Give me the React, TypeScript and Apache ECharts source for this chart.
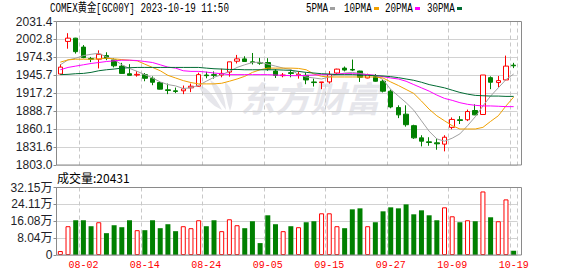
import React, { useEffect, useRef } from 'react';
import * as echarts from 'echarts';

const dates = [
  '07-28', '07-31', '08-01', '08-02', '08-03', '08-04', '08-07', '08-08', '08-09', '08-10',
  '08-11', '08-14', '08-15', '08-16', '08-17', '08-18', '08-21', '08-22', '08-23', '08-24',
  '08-25', '08-28', '08-29', '08-30', '08-31', '09-01', '09-04', '09-05', '09-06', '09-07',
  '09-08', '09-11', '09-12', '09-13', '09-14', '09-15', '09-18', '09-19', '09-20', '09-21',
  '09-22', '09-25', '09-26', '09-27', '09-28', '09-29', '10-02', '10-03', '10-04', '10-05',
  '10-06', '10-09', '10-10', '10-11', '10-12', '10-13', '10-16', '10-17', '10-18', '10-19',
];

const openPrices = [
  1947.8, 1999.7, 2004.9, 1990.7, 1972.4, 1971.4, 1977.1, 1970.3, 1960.4, 1948.3,
  1946.2, 1946.8, 1941.0, 1934.2, 1922.7, 1921.1, 1921.1, 1925.8, 1928.4, 1946.2,
  1946.8, 1946.2, 1950.9, 1968.2, 1971.9, 1967.2, 1966.1, 1966.1, 1952.5, 1945.2,
  1949.9, 1946.2, 1945.7, 1935.2, 1934.2, 1935.2, 1949.4, 1957.2, 1955.1, 1952.5,
  1941.5, 1943.6, 1936.3, 1920.5, 1894.4, 1883.9, 1865.6, 1846.2, 1839.9, 1838.3,
  1836.2, 1862.9, 1875.0, 1875.0, 1889.7, 1883.4, 1942.0, 1934.2, 1938.4, 1961.9,
];
const closePrices = [
  1958.8, 2004.9, 1983.4, 1974.0, 1971.4, 1979.2, 1972.9, 1960.9, 1948.8, 1945.7,
  1947.3, 1941.0, 1934.7, 1923.7, 1921.6, 1920.0, 1924.2, 1928.4, 1946.8, 1945.2,
  1945.7, 1948.8, 1967.2, 1971.9, 1967.7, 1966.1, 1965.1, 1955.6, 1945.7, 1946.2,
  1948.8, 1947.3, 1938.4, 1934.2, 1935.2, 1946.8, 1955.6, 1954.1, 1954.1, 1942.6,
  1946.8, 1936.3, 1920.5, 1895.4, 1882.8, 1867.1, 1846.2, 1840.9, 1838.8, 1836.7,
  1847.2, 1875.5, 1873.9, 1888.1, 1882.8, 1946.2, 1934.7, 1937.3, 1960.4, 1960.9,
];
const lowPrices = [
  1946.8, 1988.1, 1980.3, 1972.9, 1966.7, 1956.7, 1969.8, 1958.3, 1948.3, 1945.7,
  1943.6, 1936.3, 1930.0, 1923.2, 1915.8, 1917.4, 1915.8, 1919.0, 1927.9, 1941.0,
  1940.5, 1942.6, 1943.6, 1964.6, 1967.2, 1963.0, 1962.5, 1953.0, 1941.5, 1942.6,
  1942.6, 1940.5, 1931.6, 1927.9, 1923.7, 1932.6, 1946.8, 1952.0, 1952.5, 1935.2,
  1941.0, 1935.7, 1918.5, 1893.3, 1877.6, 1864.0, 1844.6, 1832.6, 1833.6, 1827.3,
  1824.7, 1859.8, 1868.2, 1872.9, 1882.3, 1882.8, 1923.7, 1926.8, 1937.8, 1957.2,
];
const highPrices = [
  1963.5, 2012.8, 2005.4, 1993.9, 1975.0, 1985.5, 1982.4, 1972.9, 1965.6, 1963.5,
  1952.5, 1949.4, 1944.1, 1936.3, 1932.6, 1926.3, 1929.5, 1932.6, 1949.9, 1951.5,
  1952.0, 1956.2, 1967.2, 1978.2, 1976.1, 1981.3, 1973.5, 1973.0, 1955.6, 1949.4,
  1954.6, 1952.0, 1949.4, 1940.5, 1935.2, 1952.5, 1956.2, 1959.8, 1970.8, 1953.0,
  1948.3, 1947.8, 1938.9, 1923.2, 1898.0, 1898.0, 1867.1, 1850.4, 1847.2, 1845.1,
  1850.4, 1878.7, 1880.8, 1891.2, 1899.6, 1946.2, 1944.1, 1944.7, 1977.1, 1965.6,
];

const volumes = [
  18900, 137100, 165500, 165500, 137100, 156000, 104000, 141800, 132400, 165500,
  118200, 118200, 165500, 127700, 146600, 113500, 137100, 127700, 165500, 137100,
  165500, 113500, 170200, 141800, 127700, 160800, 56700, 189100, 146600, 113500,
  137100, 132400, 156000, 160800, 198600, 198600, 137100, 127700, 217500, 222200,
  137100, 156000, 208000, 227000, 222200, 241100, 193800, 212800, 189100, 165500,
  227000, 184400, 156000, 165500, 160800, 302600, 179700, 160800, 264800, 20431,
];

const ma5 = [
  1962.5, 1970.3, 1972.9, 1977.1, 1979.2, 1980.8, 1975.0, 1970.8, 1962.5, 1956.7,
  1952.0, 1946.8, 1941.5, 1935.2, 1931.0, 1928.9, 1924.8, 1925.8, 1930.0, 1936.3,
  1942.6, 1946.8, 1952.0, 1958.3, 1962.5, 1966.1, 1966.7, 1963.5, 1960.4, 1957.2,
  1955.1, 1946.8, 1943.1, 1941.5, 1939.9, 1943.1, 1946.8, 1949.4, 1950.4, 1948.8,
  1946.8, 1945.7, 1938.9, 1923.2, 1912.7, 1902.2, 1890.2, 1873.4, 1856.7, 1844.6,
  1840.9, 1845.7, 1852.5, 1865.6, 1879.7, 1897.0, 1912.7, 1925.8, 1938.9, 1947.8,
];
const ma10 = [
  1966.7, 1970.3, 1971.4, 1971.4, 1971.4, 1971.9, 1972.9, 1971.9, 1970.8, 1969.8,
  1968.8, 1963.5, 1958.3, 1953.0, 1945.7, 1941.5, 1937.3, 1934.2, 1932.1, 1932.1,
  1932.1, 1933.1, 1936.3, 1939.9, 1944.1, 1950.4, 1954.6, 1957.2, 1957.2, 1957.2,
  1957.2, 1956.7, 1954.6, 1947.8, 1944.1, 1943.1, 1943.1, 1943.1, 1943.1, 1943.1,
  1943.1, 1943.1, 1941.5, 1935.2, 1929.5, 1923.2, 1916.9, 1904.8, 1891.8, 1881.3,
  1873.4, 1865.6, 1860.3, 1860.3, 1860.3, 1862.9, 1872.4, 1881.3, 1897.0, 1911.1,
];
const ma20 = [
  1954.6, 1958.3, 1960.4, 1962.5, 1964.6, 1966.1, 1967.7, 1968.8, 1969.8, 1969.8,
  1969.3, 1967.7, 1966.1, 1962.5, 1958.8, 1957.2, 1953.0, 1952.0, 1952.0, 1950.9,
  1949.4, 1948.3, 1946.8, 1946.8, 1946.8, 1946.8, 1946.8, 1946.8, 1946.2, 1945.7,
  1945.2, 1945.2, 1945.7, 1946.2, 1946.8, 1946.8, 1947.8, 1948.3, 1948.3, 1947.8,
  1946.8, 1945.7, 1943.6, 1941.5, 1939.9, 1936.3, 1931.0, 1925.8, 1920.6, 1914.3,
  1909.0, 1905.9, 1902.2, 1899.6, 1898.0, 1897.0, 1897.0, 1896.5, 1895.9, 1895.9,
];
const ma30 = [
  1946.8, 1947.3, 1948.3, 1948.8, 1950.4, 1953.0, 1954.6, 1955.7, 1957.2, 1957.8,
  1958.3, 1958.3, 1958.3, 1958.3, 1958.3, 1958.3, 1958.3, 1958.3, 1958.3, 1957.2,
  1956.2, 1955.7, 1955.1, 1955.1, 1954.6, 1954.6, 1954.6, 1954.6, 1954.6, 1954.1,
  1953.6, 1952.0, 1950.4, 1949.4, 1948.3, 1947.8, 1946.8, 1946.8, 1946.8, 1946.2,
  1945.7, 1945.2, 1944.7, 1943.6, 1942.0, 1939.9, 1937.8, 1934.7, 1931.0, 1928.4,
  1925.8, 1922.1, 1918.5, 1915.8, 1913.8, 1913.2, 1912.7, 1912.7, 1912.2, 1912.2,
];

const priceTickLabels = ['1803.0', '1831.6', '1860.1', '1888.7', '1917.2', '1945.7', '1974.3', '2002.8', '2031.4'];
const volumeTickLabels = ['0', '8.04万', '16.08万', '24.11万', '32.15万'];
const maNames = ['5PMA', '10PMA', '20PMA', '30PMA'];
const maColors = ['#a0a0a0', '#f0a000', '#ff00ff', '#006b33'];
const titleText = 'COMEX黄金[GC00Y] 2023-10-19 11:50';
const volumeTitle = '成交量:20431';
const watermarkText = '东方财富';

const UP = '#ff0000';
const DOWN = '#008000';

let logoRegistered = false;
function registerLogo() {
  if (logoRegistered) return;
  const d =
    'M2 6 Q14 8 26 31 Q10 24 2 6 Z M14 1 Q28 8 30 31 Q20 18 14 1 Z M29 3 Q41 12 34 32 Q29 18 29 3 Z';
  echarts.graphic.registerShape('logo', echarts.graphic.extendPath(d, {}) as any);
  logoRegistered = true;
}

export default function App() {
  const ref = useRef<HTMLDivElement>(null);

  useEffect(() => {
    if (!ref.current) return;
    registerLogo();
    const chart = echarts.init(ref.current, null, { renderer: 'svg' });

    const labelEvery = (index: number) => index % 8 === 3;
    const monoFont = '12px "Liberation Mono", "Noto Sans CJK SC", monospace';
    const monoScale = 0.77;

    const gridLeft = 56.5;
    const plotWidth = 461;
    const borderWidth = 465;

    const candleData = dates.map((_, i) => [openPrices[i], closePrices[i], lowPrices[i], highPrices[i]]);
    const volumeData = volumes.map((v, i) => {
      const up = closePrices[i] >= openPrices[i];
      return {
        value: v,
        itemStyle: up
          ? { color: '#ffffff', borderColor: UP, borderWidth: 1 }
          : { color: DOWN, borderColor: DOWN, borderWidth: 0 },
      };
    });

    const legendX = [306, 344, 385, 427];
    const legendMarkX = [330, 374, 415, 457];

    const graphics: any[] = [
      {
        type: 'logo',
        x: 196,
        y: 79,
        z: 0,
        style: { fill: '#e6e6eb' },
      },
      {
        type: 'text',
        x: 310,
        y: 96,
        z: 0,
        style: {
          text: watermarkText,
          font: 'italic bold 35px "Noto Sans CJK SC"',
          fill: '#e6e6eb',
          textAlign: 'center',
          textVerticalAlign: 'middle',
        },
      },
      {
        type: 'rect',
        z: 10,
        shape: { x: gridLeft, y: 21.5, width: borderWidth, height: 143.5 },
        style: { fill: 'none', stroke: '#8a8a8a', lineWidth: 1 },
      },
      {
        type: 'rect',
        z: 10,
        shape: { x: gridLeft, y: 187.5, width: borderWidth, height: 67.5 },
        style: { fill: 'none', stroke: '#8a8a8a', lineWidth: 1 },
      },
      {
        type: 'text',
        x: 50,
        y: 9,
        scaleX: monoScale,
        style: {
          text: titleText,
          font: monoFont,
          fill: '#000',
          textAlign: 'left',
          textVerticalAlign: 'middle',
        },
      },
      {
        type: 'text',
        x: 57,
        y: 177.5,
        style: {
          text: volumeTitle,
          font: '12px "Noto Sans CJK SC"',
          fill: '#000',
          textAlign: 'left',
          textVerticalAlign: 'middle',
        },
      },
    ];
    maNames.forEach((name, k) => {
      graphics.push({
        type: 'text',
        x: legendX[k],
        y: 9,
        scaleX: monoScale,
        style: { text: name, font: monoFont, fill: '#000', textAlign: 'left', textVerticalAlign: 'middle' },
      });
      graphics.push({
        type: 'rect',
        shape: { x: legendMarkX[k], y: 7, width: 5, height: 3 },
        style: { fill: maColors[k] },
      });
    });

    const option: any = {
      animation: false,
      backgroundColor: '#ffffff',
      grid: [
        { left: gridLeft, top: 21.5, width: plotWidth, height: 143.5 },
        { left: gridLeft, top: 187.5, width: plotWidth, height: 67.5 },
      ],
      xAxis: [
        {
          type: 'category',
          gridIndex: 0,
          data: dates,
          boundaryGap: true,
          axisLine: { show: false },
          axisTick: { show: false },
          axisLabel: { show: false },
          splitLine: { show: true, interval: labelEvery, lineStyle: { color: '#c8c8c8', type: [4, 3], width: 1 } },
        },
        {
          type: 'category',
          gridIndex: 1,
          data: dates,
          boundaryGap: true,
          axisLine: { show: false },
          axisTick: { show: false },
          axisLabel: {
            show: true,
            interval: labelEvery,
            color: '#ff0000',
            fontFamily: '"Liberation Mono", monospace',
            fontSize: 10,
            margin: 5,
          },
          splitLine: { show: true, interval: labelEvery, lineStyle: { color: '#c8c8c8', type: [4, 3], width: 1 } },
        },
      ],
      yAxis: [
        {
          type: 'value',
          gridIndex: 0,
          min: 1803.0,
          max: 2031.4,
          position: 'right',
          show: false,
        },
        {
          type: 'value',
          gridIndex: 0,
          position: 'left',
          min: 0,
          max: priceTickLabels.length - 1,
          interval: 1,
          axisLine: { show: false },
          axisTick: { show: true, length: 3, lineStyle: { color: '#8a8a8a' } },
          axisLabel: {
            formatter: (v: number) => priceTickLabels[Math.round(v)],
            color: '#1e1e28',
            fontFamily: '"Liberation Sans", Arial, sans-serif',
            fontSize: 12,
            margin: 4,
          },
          splitLine: { show: true, lineStyle: { color: '#d2d2d2', width: 1 } },
        },
        {
          type: 'value',
          gridIndex: 1,
          position: 'left',
          min: 0,
          max: 321500,
          interval: 80375,
          axisLine: { show: false },
          axisTick: { show: true, length: 3, lineStyle: { color: '#8a8a8a' } },
          axisLabel: {
            formatter: (v: number) => volumeTickLabels[Math.round(v / 80375)],
            color: '#1e1e28',
            fontFamily: '"Liberation Sans", "Noto Sans CJK SC", sans-serif',
            fontSize: 12,
            margin: 4,
          },
          splitLine: { show: true, lineStyle: { color: '#d2d2d2', width: 1 } },
        },
      ],
      series: [
        {
          type: 'candlestick',
          xAxisIndex: 0,
          yAxisIndex: 0,
          data: candleData,
          barWidth: 5,
          z: 3,
          itemStyle: {
            color: '#ffffff',
            color0: DOWN,
            borderColor: UP,
            borderColor0: DOWN,
            borderWidth: 1,
          },
        },
        ...[ma5, ma10, ma20, ma30].map((arr, k) => ({
          type: 'line',
          name: maNames[k],
          xAxisIndex: 0,
          yAxisIndex: 0,
          data: arr,
          symbol: 'none',
          showSymbol: false,
          smooth: false,
          z: 4,
          lineStyle: { color: maColors[k], width: 1 },
        })),
        {
          type: 'bar',
          xAxisIndex: 1,
          yAxisIndex: 2,
          data: volumeData,
          barWidth: 5,
          z: 3,
        },
      ],
      graphic: graphics,
    };

    chart.setOption(option);
    return () => chart.dispose();
  }, []);

  return (
    <div
      ref={ref}
      style={{ position: 'fixed', left: 0, top: 0, width: 578, height: 276, background: '#fff' }}
    />
  );
}
